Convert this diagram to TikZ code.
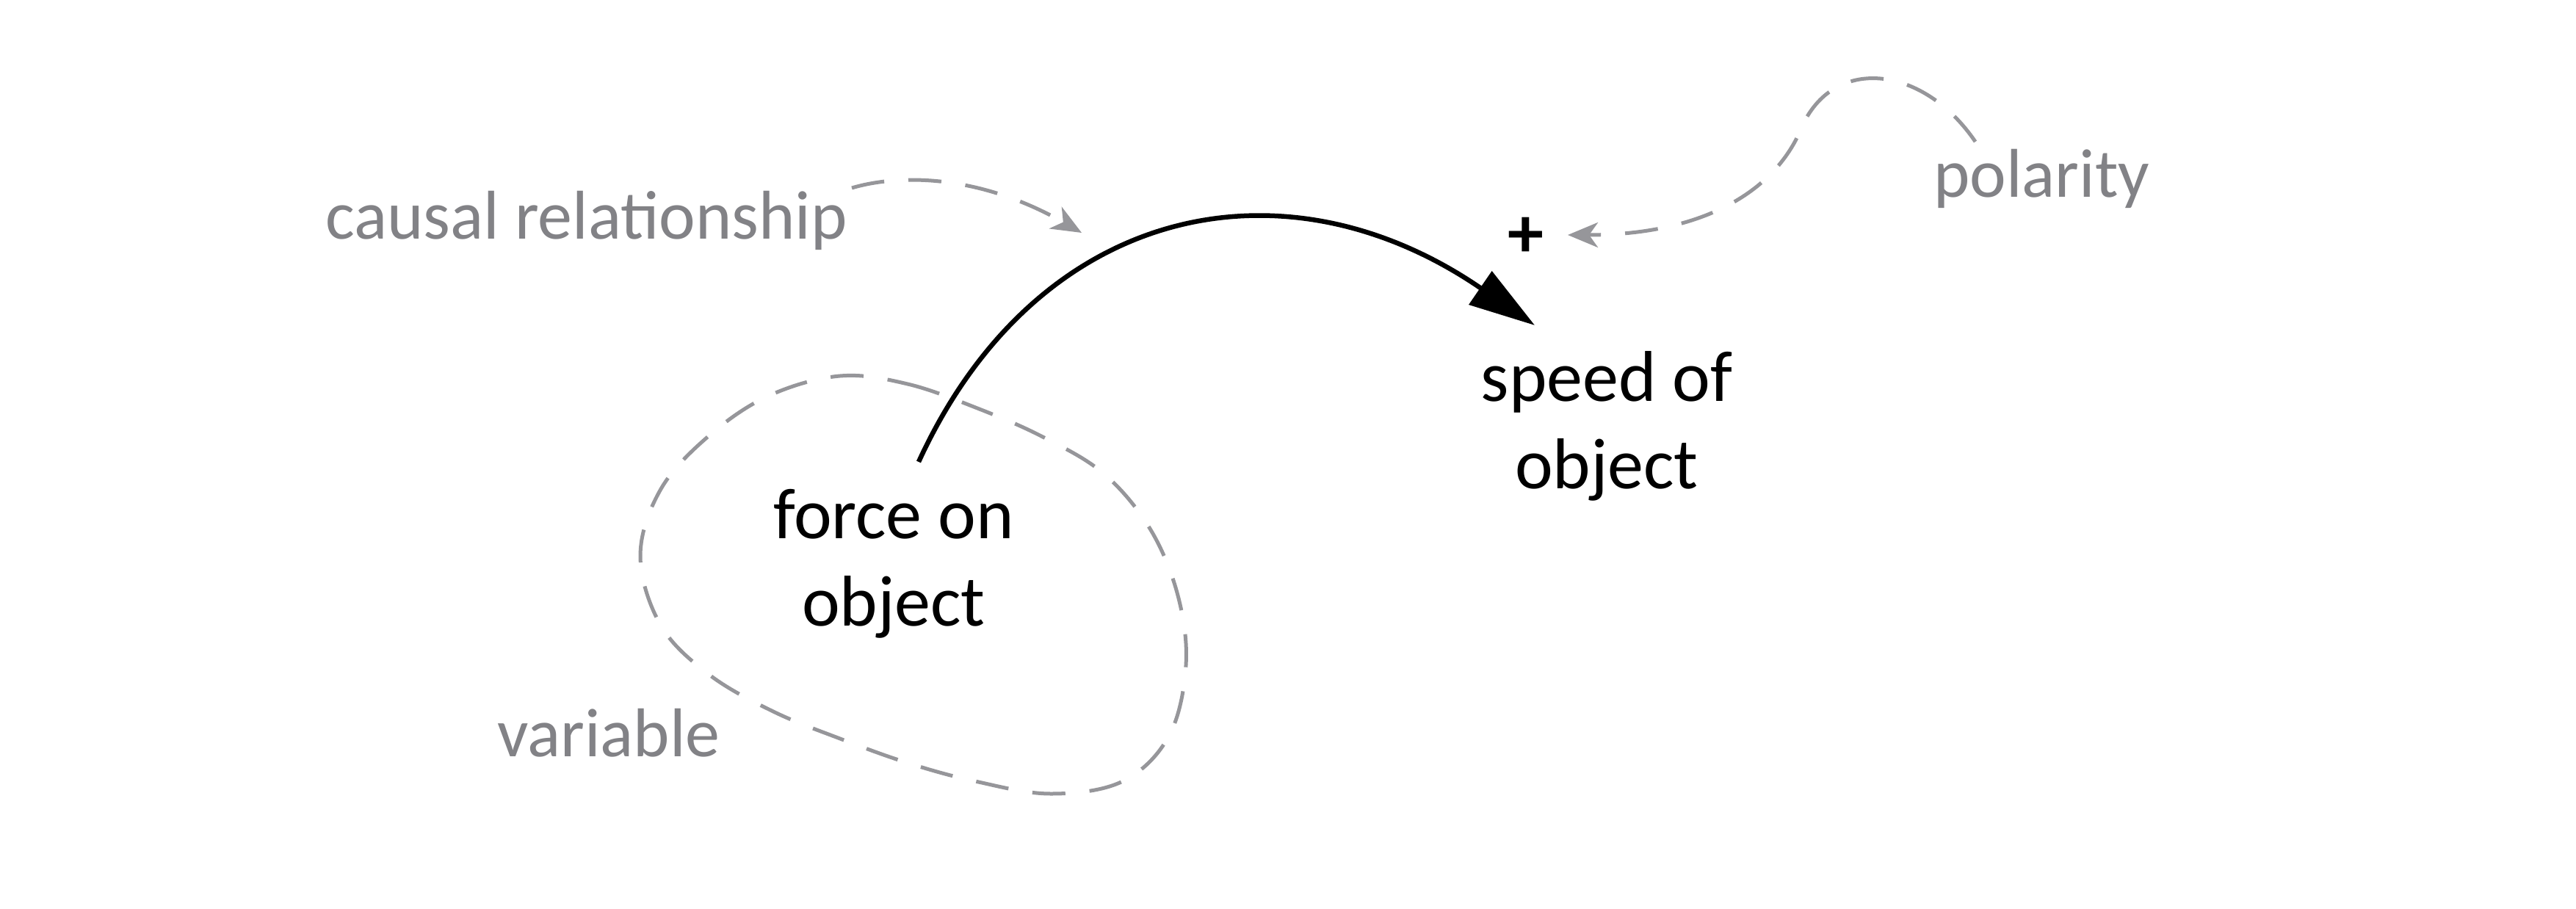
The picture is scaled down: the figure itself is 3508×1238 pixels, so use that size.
\documentclass[tikz,border=0pt]{standalone}
\usepackage{fontspec}
\setmainfont{Carlito}
\usetikzlibrary{arrows.meta}
\definecolor{annot}{RGB}{130,130,134}
\definecolor{dashc}{RGB}{150,150,154}
\tikzset{
  var/.style={inner sep=0pt, align=center, font=\fontsize{98}{119}\selectfont, text=black},
  note/.style={inner sep=0pt, font=\fontsize{94}{110}\selectfont, text=annot},
  dashline/.style={draw=dashc, line width=5pt, dash pattern=on 45pt off 33pt},
  causal/.style={line width=6.5pt, -{Triangle[length=90pt,width=54pt]}},
  pointer/.style={dashline, -{Stealth[length=41pt,width=34pt,inset=12pt,fill=dashc]}}
}
\begin{document}
\begin{tikzpicture}[x=1pt,y=-1pt]
\useasboundingbox[fill=white] (0,0) rectangle (3508,1238);
% variables (base anchor = baseline of last line)
\node[var, anchor=base] (force) at (1217,852) {force on\\object};
\node[var, anchor=base] (speed) at (2188,665) {speed of\\object};
\node[inner sep=0pt, font=\fontsize{98}{110}\bfseries] (plus) at (2078,323) {+};
% annotation labels
\node[note, anchor=base west] (lcausal) at (443,326) {causal relationship};
\node[note, anchor=base west] (lpol) at (2633,269) {polarity};
\node[note, anchor=base west] (lvar) at (677,1030) {variable};
% connector end points
\coordinate (cstart) at (1251,629);
\coordinate (cend) at (2090,443);
\coordinate (pstart) at (1160,256);
\coordinate (pend) at (1473,317);
\coordinate (qstart) at (2690,193);
\coordinate (qend) at (2135,320);
% causal link
\draw[causal] (cstart) .. controls (1412,278) and (1748,208) .. (cend);
% variable outline
\draw[dashline] plot[smooth cycle, tension=0.6] coordinates {
 (1144,512) (1236,523) (1331,556) (1420,595) (1503,645) (1566,720)
 (1604,811) (1615,906) (1592,1002) (1529,1064) (1431,1081) (1328,1064)
 (1236,1039) (1144,1006) (1053,969) (966,919) (900,852) (872,757)
 (900,666) (966,593) (1047,539)};
% pointer to causal link
\draw[pointer] (pstart) .. controls (1220,238) and (1330,235) .. (pend);
% pointer to polarity
\draw[pointer] (qstart) .. controls (2620,90) and (2500,75) .. (2455,170)
  .. controls (2420,260) and (2320,320) .. (qend);
\end{tikzpicture}
\end{document}
